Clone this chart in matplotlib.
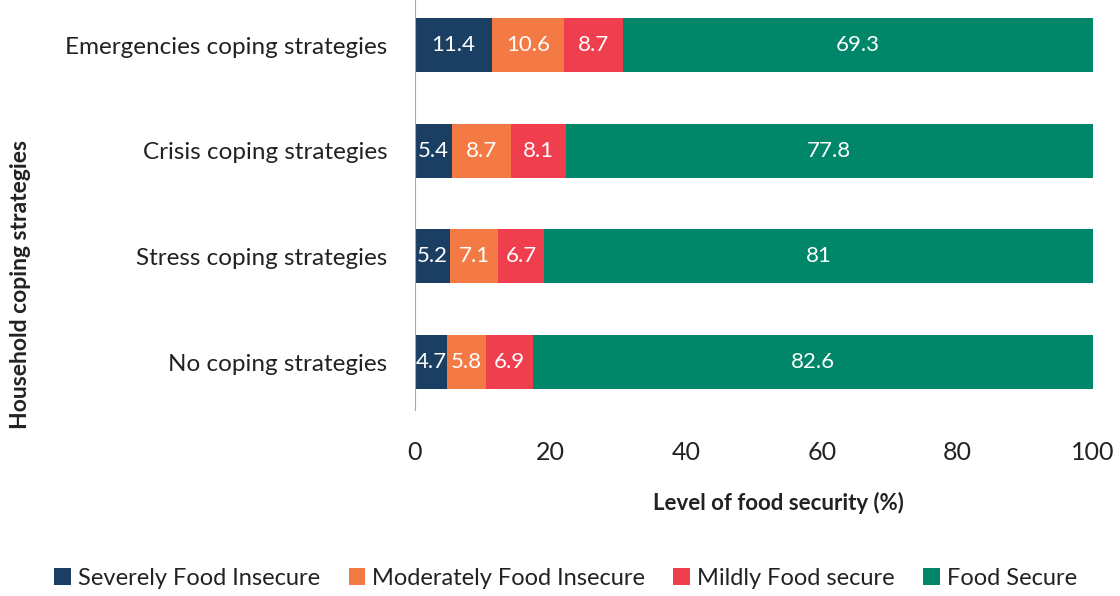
import numpy as np
import matplotlib.pyplot as plt

plt.rcParams['font.family'] = ['Lato', 'DejaVu Sans']

categories = ['Emergencies coping strategies', 'Crisis coping strategies',
              'Stress coping strategies', 'No coping strategies']
series = ['Severely Food Insecure', 'Moderately Food Insecure',
          'Mildly Food secure', 'Food Secure']
severe = [11.4, 5.4, 5.2, 4.7]
moderate = [10.6, 8.7, 7.1, 5.8]
mild = [8.7, 8.1, 6.7, 6.9]
secure = [69.3, 77.8, 81, 82.6]
colors = ['#1a3f63', '#f47a45', '#ef3e4e', '#00876a']

fig = plt.figure(figsize=(11.2, 5.96), dpi=100)
ax = fig.add_axes([0.3705, 0.312, 0.6055, 0.688])

y = np.arange(len(categories))
left = np.zeros(len(categories))
for name, vals, c in zip(series, [severe, moderate, mild, secure], colors):
    bars = ax.barh(y, vals, left=left, height=0.51, color=c, label=name)
    labels = [('%g' % v) for v in vals]
    ax.bar_label(bars, labels=labels, label_type='center', color='white', fontsize=16)
    left += np.array(vals)

ax.set_xlim(0, 100)
ax.set_ylim(3.454, -0.426)
ax.set_yticks(y)
ax.set_yticklabels(categories, fontsize=17.5, color='#222222')
ax.set_xticks([0, 20, 40, 60, 80, 100])
ax.tick_params(axis='x', length=0, pad=22, labelsize=18, labelcolor='#222222')
ax.tick_params(axis='y', length=0, pad=20)
for s in ['top', 'right', 'bottom']:
    ax.spines[s].set_visible(False)
ax.spines['left'].set_color('#aaaaaa')

fig.text(0.695, 0.156, 'Level of food security (%)', ha='center', va='center',
         fontsize=16, fontweight='bold', color='#222222')
fig.text(0.018, 0.522, 'Household coping strategies', ha='center', va='center',
         rotation=90, fontsize=16.5, fontweight='bold', color='#222222')

fig.legend(loc='center', bbox_to_anchor=(0.505, 0.03), ncol=4, frameon=False,
           fontsize=17, handlelength=0.7, handleheight=0.7, handletextpad=0.3,
           columnspacing=1.2, labelcolor='#222222')

fig.savefig('out.png', dpi=100)
